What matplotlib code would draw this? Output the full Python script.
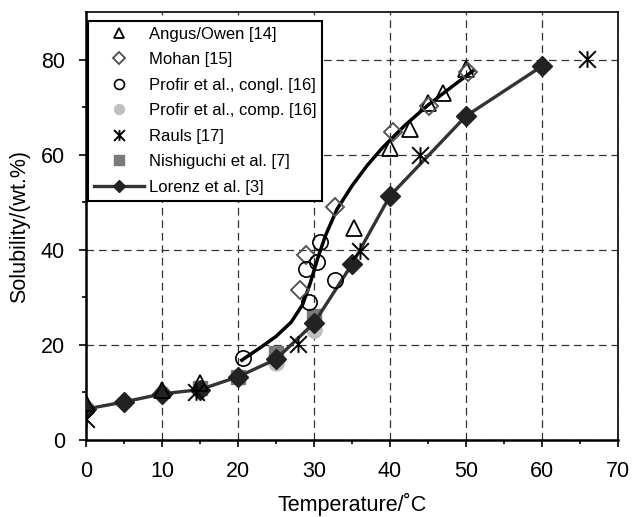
import numpy as np
import matplotlib
matplotlib.use('Agg')
import matplotlib.pyplot as plt
from matplotlib.path import Path

plt.rcParams['font.family'] = ['Liberation Sans', 'DejaVu Sans']
plt.rcParams['lines.scale_dashes'] = False

# data
angus_t = [0, 10, 15, 35.2, 40, 42.6, 45, 47, 50]
angus_s = [7.8, 10.5, 12, 44.6, 61.5, 65.5, 71, 73, 78]

mohan_t = [28.2, 29.0, 32.8, 40.4, 45.1, 50.3]
mohan_s = [31.6, 39.0, 49.0, 64.8, 70.2, 77.5]

congl_t = [20.7, 29.3, 29.0, 30.4, 30.8, 32.8]
congl_s = [17.3, 29.0, 36.0, 37.5, 41.7, 33.7]

comp_t = [0, 10, 25, 30]
comp_s = [6.8, 9.9, 16.2, 23.2]

rauls_t = [0, 14.5, 27.9, 36, 44, 65.9]
rauls_s = [4.5, 10.0, 20.2, 39.8, 60, 80.2]

nishi_t = [15, 20, 25, 30]
nishi_s = [11.0, 13.3, 18.3, 26.0]

lorenz_t = [0, 5, 10, 15, 20, 25, 30, 35, 40, 50, 60]
lorenz_s = [6.5, 8.0, 9.7, 10.6, 13.3, 17.0, 24.6, 37.0, 51.4, 68.2, 78.7]

# black curve (no legend entry)
fit_t = [20.5, 23, 25, 27, 28.5, 29.5, 30.5, 31.5, 33, 35, 37, 39, 42, 45, 48, 51]
fit_s = [16.8, 19.5, 21.8, 24.8, 28.5, 33, 38.3, 43, 48.5, 53.5, 57.8, 61.5, 66.3, 70.5, 74.2, 77.8]

star = Path([(0, -1), (0, 1), (-1, -1), (1, 1), (-1, 1), (1, -1)],
            [Path.MOVETO, Path.LINETO, Path.MOVETO, Path.LINETO, Path.MOVETO, Path.LINETO])


def main():
    fig = plt.figure(figsize=(6.32, 5.17), dpi=100)
    ax = fig.add_axes([0.136, 0.149, 0.842, 0.827])

    ax.plot(comp_t, comp_s, ls='none', marker='o', ms=11, mfc='#c0c0c0', mec='#c0c0c0',
            label='Profir et al., comp. [16]', zorder=3)
    ax.plot(nishi_t, nishi_s, ls='none', marker='s', ms=10.5, mfc='#7a7a7a', mec='#7a7a7a',
            label='Nishiguchi et al. [7]', zorder=3)
    ax.plot(fit_t, fit_s, color='black', lw=2.5, zorder=4)
    ax.plot(lorenz_t, lorenz_s, color='#333333', lw=2.4, marker='D', ms=10, mfc='#222222',
            mec='#222222', label='Lorenz et al. [3]', zorder=5)
    ax.plot(angus_t, angus_s, ls='none', marker='^', ms=12, mfc='none', mec='black', mew=1.3,
            label='Angus/Owen [14]', zorder=6)
    ax.plot(mohan_t, mohan_s, ls='none', marker='D', ms=9, mfc='none', mec='#555555', mew=1.4,
            label='Mohan [15]', zorder=6)
    ax.plot(congl_t, congl_s, ls='none', marker='o', ms=11, mfc='none', mec='black', mew=1.2,
            label='Profir et al., congl. [16]', zorder=6)
    ax.plot(rauls_t, rauls_s, ls='none', marker=star, ms=12, mec='black', mew=1.4,
            label='Rauls [17]', zorder=6)

    ax.set_xlim(0, 70)
    ax.set_ylim(0, 90)
    ax.set_xticks(np.arange(0, 71, 10))
    ax.set_xticks(np.arange(5, 70, 10), minor=True)
    ax.set_yticks(np.arange(0, 81, 20))
    ax.set_yticks(np.arange(10, 90, 20), minor=True)
    ax.tick_params(which='major', direction='out', length=5, width=1.2, labelsize=15.5, pad=10)
    ax.tick_params(which='minor', direction='out', length=3, width=1.2)
    ax.grid(True, which='major', color='#333333', lw=0.9, dashes=(5.5, 3.5))
    ax.set_axisbelow(True)

    for side in ['left', 'bottom']:
        ax.spines[side].set_linewidth(1.8)
    for side in ['top', 'right']:
        ax.spines[side].set_linewidth(1.2)

    ax.set_xlabel('Temperature/\u02daC', fontsize=15.5, labelpad=8)
    ax.set_ylabel('Solubility/(wt.%)', fontsize=15.5, labelpad=8)

    h, l = ax.get_legend_handles_labels()
    order = ['Angus/Owen [14]', 'Mohan [15]', 'Profir et al., congl. [16]',
             'Profir et al., comp. [16]', 'Rauls [17]', 'Nishiguchi et al. [7]', 'Lorenz et al. [3]']
    hd = dict(zip(l, h))
    leg = ax.legend([hd[k] for k in order], order, loc='upper left', bbox_to_anchor=(0.004, 0.98),
                    fontsize=12, markerscale=0.65, labelspacing=0.63, handlelength=3.0,
                    handletextpad=0.3, borderpad=0.35, borderaxespad=0, fancybox=False,
                    framealpha=1, edgecolor='black')
    leg.get_frame().set_linewidth(1.5)
    leg.set_zorder(10)

    plt.savefig('out.png', dpi=100)
    plt.close()


if __name__ == '__main__':
    main()
